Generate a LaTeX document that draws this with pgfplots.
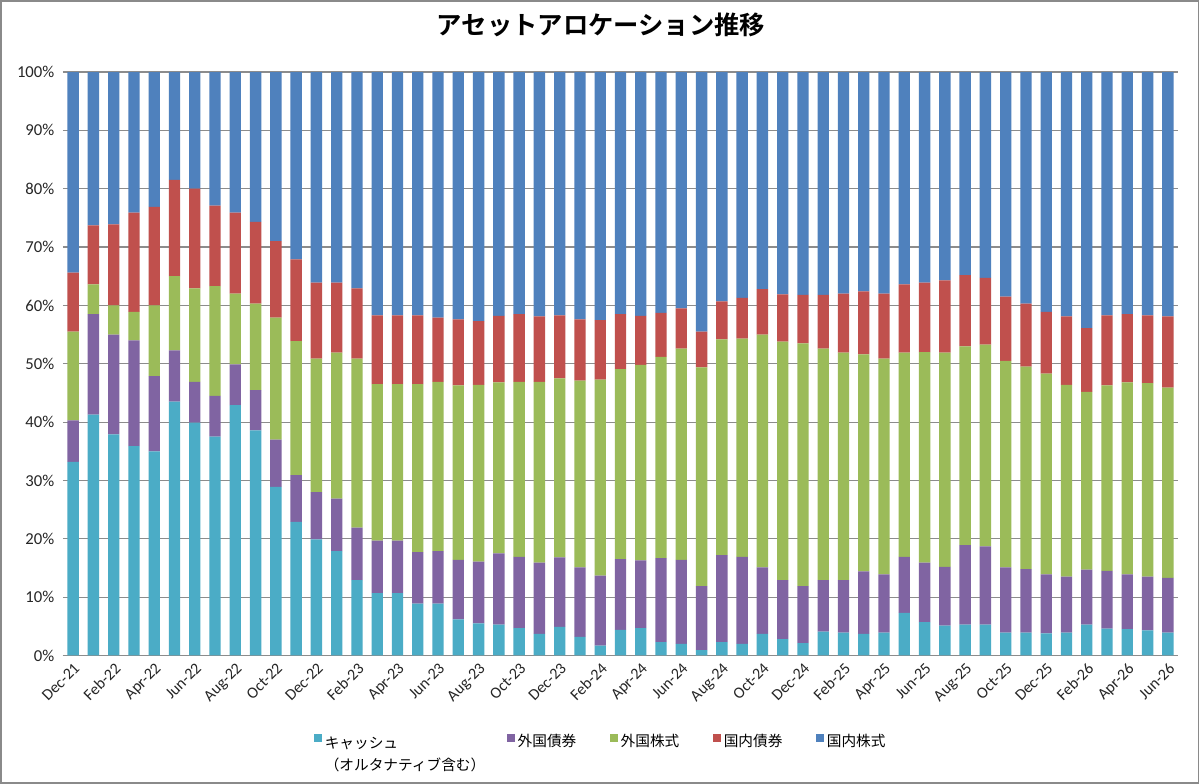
\documentclass[border=0pt]{standalone}
\usepackage{fontspec}
\setmainfont{Carlito}
\newfontfamily\jp{Noto Sans CJK JP}[BoldFont={Noto Sans CJK JP Bold}]
\usepackage{pgfplots}
\usepackage{pgfplotstable}
\pgfplotsset{compat=1.18}
\definecolor{cCash}{HTML}{4BACC6}
\definecolor{cFB}{HTML}{8064A2}
\definecolor{cFS}{HTML}{9BBB59}
\definecolor{cDB}{HTML}{C0504D}
\definecolor{cDS}{HTML}{4F81BD}
\definecolor{gridgray}{HTML}{8C8C8C}
\definecolor{framegray}{HTML}{8A8A8A}

\pgfplotstableread{
idx cash fbond fstock dbond dstock
0 33.2 7.1 15.2 10.1 34.4
1 41.3 17.2 5.1 10.1 26.3
2 37.9 17.1 5.0 13.9 26.1
3 35.9 18.1 4.9 17.0 24.1
4 35.0 12.9 12.1 16.9 23.1
5 43.5 8.8 12.7 16.5 18.5
6 39.9 7.0 16.0 17.1 20.0
7 37.5 7.0 18.8 13.8 22.9
8 42.9 7.0 12.1 13.9 24.1
9 38.6 6.9 14.8 14.0 25.7
10 28.9 8.1 20.9 13.1 29.0
11 22.9 8.0 23.0 14.0 32.1
12 19.9 8.1 22.9 13.0 36.1
13 17.9 9.0 25.0 12.0 36.1
14 12.9 9.0 29.0 12.0 37.1
15 10.7 9.0 26.8 11.8 41.7
16 10.7 9.0 26.8 11.8 41.7
17 8.9 8.8 28.8 11.8 41.7
18 8.9 9.0 29.0 11.0 42.1
19 6.2 10.2 29.9 11.3 42.4
20 5.5 10.6 30.3 10.9 42.7
21 5.3 12.2 29.3 11.4 41.8
22 4.7 12.2 30.0 11.6 41.5
23 3.7 12.2 31.0 11.2 41.9
24 4.9 11.9 30.7 10.8 41.7
25 3.2 11.9 32.0 10.5 42.4
26 1.7 12.0 33.6 10.2 42.5
27 4.4 12.1 32.6 9.4 41.5
28 4.7 11.6 33.5 8.4 41.8
29 2.3 14.4 34.5 7.5 41.3
30 2.0 14.4 36.2 6.9 40.5
31 0.9 11.0 37.5 6.1 44.5
32 2.3 14.9 37.0 6.5 39.3
33 2.0 14.9 37.4 7.0 38.7
34 3.7 11.4 39.9 7.8 37.2
35 2.8 10.1 40.9 8.1 38.1
36 2.1 9.8 41.6 8.3 38.2
37 4.1 8.8 39.7 9.2 38.2
38 3.9 9.0 39.0 10.1 38.0
39 3.7 10.7 37.2 10.8 37.6
40 3.9 10.0 37.0 11.1 38.0
41 7.3 9.6 35.0 11.7 36.4
42 5.7 10.2 36.1 11.9 36.1
43 5.1 10.1 36.7 12.4 35.7
44 5.3 13.6 34.1 12.2 34.8
45 5.3 13.4 34.6 11.4 35.3
46 3.9 11.2 35.4 11.0 38.5
47 3.9 10.9 34.7 10.8 39.7
48 3.8 10.1 34.4 10.6 41.1
49 3.9 9.6 32.9 11.7 41.9
50 5.3 9.4 30.5 10.9 43.9
51 4.6 9.9 31.8 12.0 41.7
52 4.5 9.4 32.9 11.7 41.5
53 4.3 9.2 33.2 11.6 41.7
54 3.9 9.4 32.6 12.2 41.9
}\data

\begin{document}
\begin{tikzpicture}
\useasboundingbox (-47.25pt,-96.375pt) rectangle (852.75pt,491.625pt);
\fill[white] (-47.25pt,-96.375pt) rectangle (852.75pt,491.625pt);
\draw[framegray, line width=1.3pt] (-46.5pt,-95.6pt) rectangle (851.6pt,490.9pt);
\begin{axis}[
  at={(0,0)}, anchor=south west,
  scale only axis, width=836.25pt, height=437.6pt,
  ybar stacked, bar width=8.5pt,
  xmin=-0.5, xmax=54.5, ymin=0, ymax=100,
  axis lines*=left,
  x axis line style={gridgray, line width=1pt},
  y axis line style={draw=none},
  xtick={0,2,...,54},
  xticklabels={Dec-21,Feb-22,Apr-22,Jun-22,Aug-22,Oct-22,Dec-22,Feb-23,Apr-23,Jun-23,Aug-23,Oct-23,Dec-23,Feb-24,Apr-24,Jun-24,Aug-24,Oct-24,Dec-24,Feb-25,Apr-25,Jun-25,Aug-25,Oct-25,Dec-25,Feb-26,Apr-26,Jun-26},
  x tick label style={rotate=45, anchor=north east, font=\fontsize{12}{14}\selectfont, text=black!85},
  ytick={0,10,...,100},
  yticklabel={\pgfmathprintnumber{\tick}\%},
  y tick label style={font=\fontsize{12.5}{14}\selectfont, text=black!85, xshift=-3pt},
  /pgf/number format/assume math mode=true,
  tick style={draw=none},
  ymajorgrids, grid style={gridgray, line width=0.9pt},
  title={\jp\bfseries アセットアロケーション推移},
  title style={at={(axis description cs:0.4825,1.0668)}, anchor=center, font=\fontsize{19}{22}\selectfont},
  legend columns=5,
  legend cell align=left,
  legend style={draw=none, fill=none, at={(0.4825,-0.123)}, anchor=north,
    font=\jp\fontsize{11}{16.5}\selectfont,
    /tikz/every even column/.append style={column sep=23pt}},
  legend image code/.code={\fill[#1] (0pt,-0.6pt) rectangle (6.3pt,5.7pt);},
]
\addplot[fill=cCash, draw=none] table[x=idx, y=cash] {\data};
\addplot[fill=cFB, draw=none] table[x=idx, y=fbond] {\data};
\addplot[fill=cFS, draw=none] table[x=idx, y=fstock] {\data};
\addplot[fill=cDB, draw=none] table[x=idx, y=dbond] {\data};
\addplot[fill=cDS, draw=none] table[x=idx, y=dstock] {\data};
\addlegendentry{\makebox[\dimexpr\width-9pt\relax][l]{\begin{tabular}[t]{@{}l@{}}キャッシュ\\（オルタナティブ含む）\end{tabular}}}
\addlegendentry{外国債券}
\addlegendentry{外国株式}
\addlegendentry{国内債券}
\addlegendentry{国内株式}
\end{axis}
\end{tikzpicture}
\end{document}
